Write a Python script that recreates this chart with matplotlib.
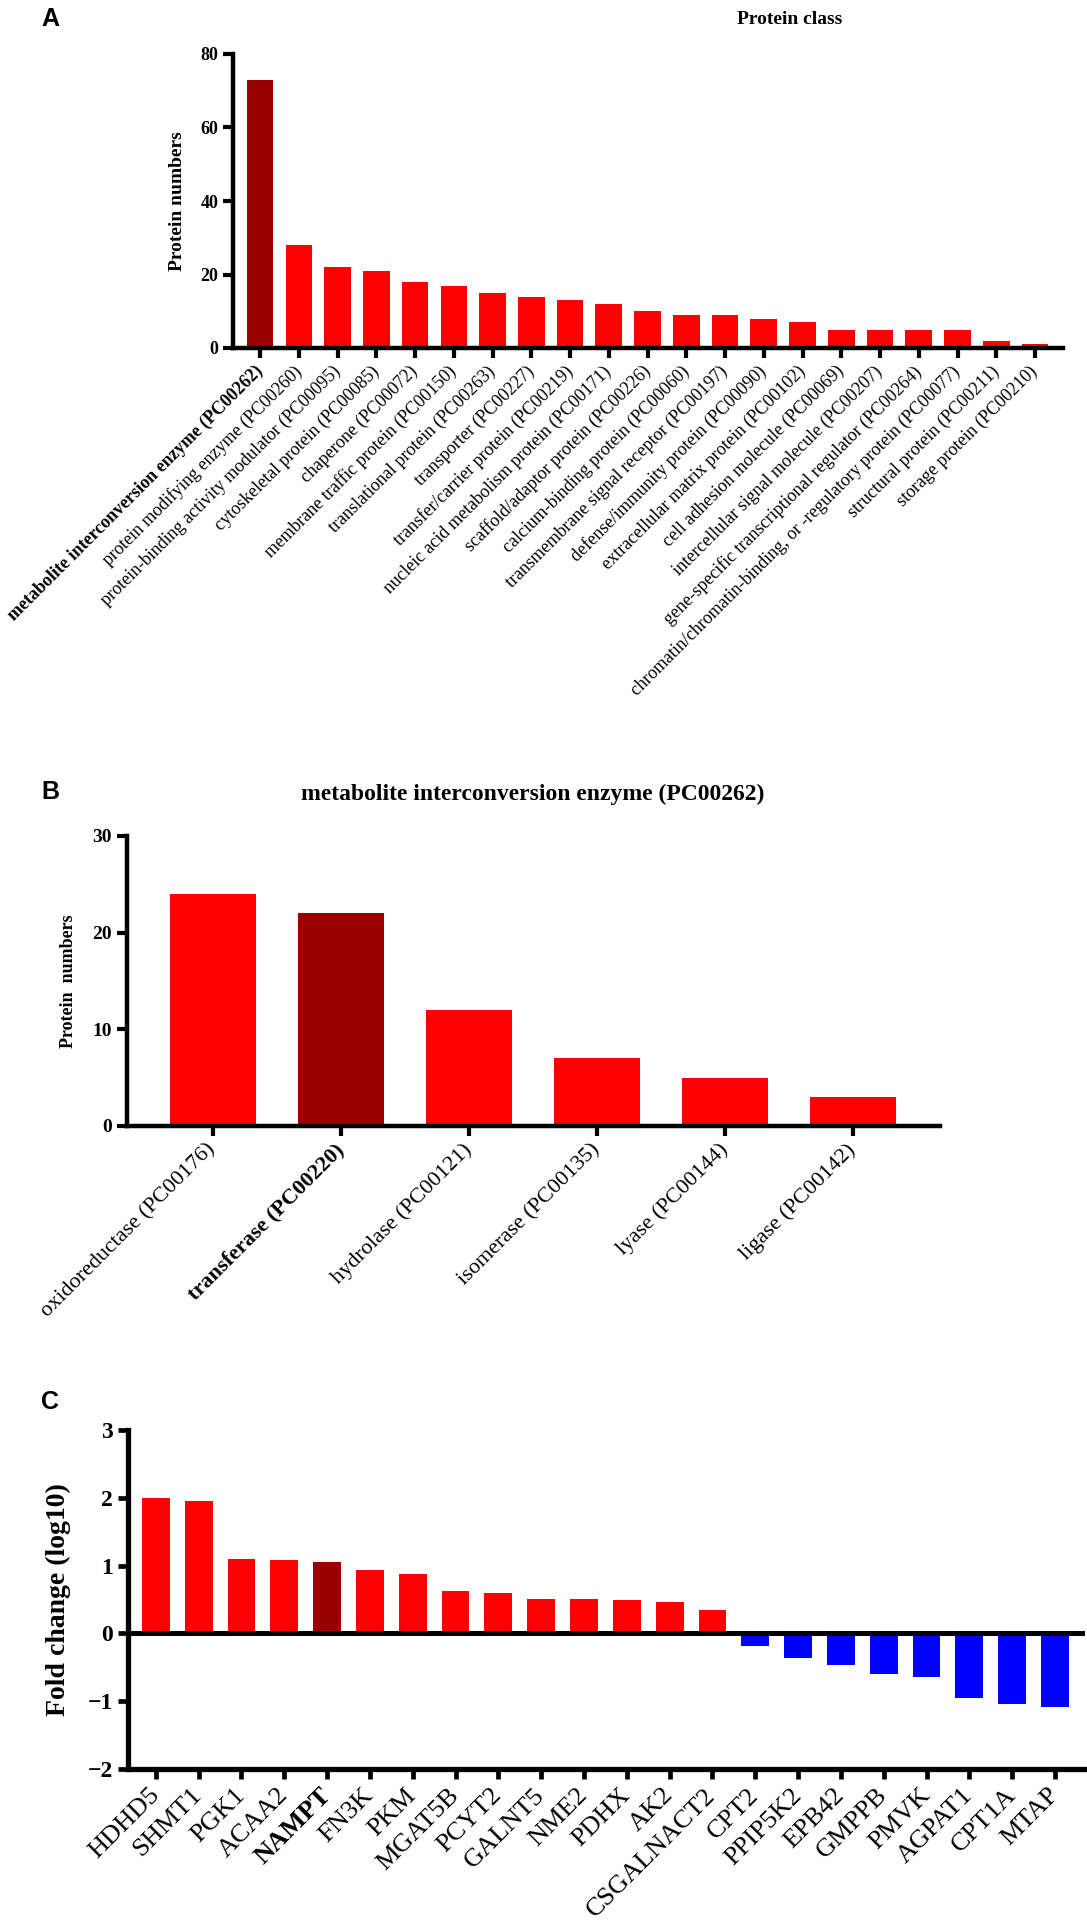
import matplotlib.pyplot as plt

plt.rcParams['font.family'] = 'Liberation Serif'

W, H = 1087, 1928

# panel A: protein classes
class_names = [
    'metabolite interconversion enzyme (PC00262)',
    'protein modifying enzyme (PC00260)',
    'protein-binding activity modulator (PC00095)',
    'cytoskeletal protein (PC00085)',
    'chaperone (PC00072)',
    'membrane traffic protein (PC00150)',
    'translational protein (PC00263)',
    'transporter (PC00227)',
    'transfer/carrier protein (PC00219)',
    'nucleic acid metabolism protein (PC00171)',
    'scaffold/adaptor protein (PC00226)',
    'calcium-binding protein (PC00060)',
    'transmembrane signal receptor (PC00197)',
    'defense/immunity protein (PC00090)',
    'extracellular matrix protein (PC00102)',
    'cell adhesion molecule (PC00069)',
    'intercellular signal molecule (PC00207)',
    'gene-specific transcriptional regulator (PC00264)',
    'chromatin/chromatin-binding, or -regulatory protein (PC00077)',
    'structural protein (PC00211)',
    'storage protein (PC00210)',
]
class_counts = [73, 28, 22, 21, 18, 17, 15, 14, 13, 12, 10, 9, 9, 8, 7, 5, 5, 5, 5, 2, 1]

# panel B: metabolite interconversion enzymes
enzyme_names = [
    'oxidoreductase (PC00176)',
    'transferase (PC00220)',
    'hydrolase (PC00121)',
    'isomerase (PC00135)',
    'lyase (PC00144)',
    'ligase (PC00142)',
]
enzyme_counts = [24, 22, 12, 7, 5, 3]

# panel C: fold changes
gene_names = ['HDHD5', 'SHMT1', 'PGK1', 'ACAA2', 'NAMPT', 'FN3K', 'PKM', 'MGAT5B',
              'PCYT2', 'GALNT5', 'NME2', 'PDHX', 'AK2', 'CSGALNACT2', 'CPT2',
              'PPIP5K2', 'EPB42', 'GMPPB', 'PMVK', 'AGPAT1', 'CPT1A', 'MTAP']
gene_fc = [2.0, 1.95, 1.10, 1.08, 1.06, 0.94, 0.87, 0.63, 0.59, 0.51, 0.51, 0.49,
           0.46, 0.35, -0.19, -0.37, -0.46, -0.60, -0.64, -0.96, -1.04, -1.09]

RED = '#ff0000'
DARK = '#9b0000'
BLUE = '#0000ff'


def box(left, top, right, bottom):
    return [left / W, 1 - bottom / H, (right - left) / W, (bottom - top) / H]


def style(ax, lw, ticklen, tickw):
    ax.spines['top'].set_visible(False)
    ax.spines['right'].set_visible(False)
    ax.spines['left'].set_linewidth(lw)
    ax.spines['bottom'].set_linewidth(lw)
    ax.tick_params(length=ticklen, width=tickw, colors='black')


fig = plt.figure(figsize=(W / 100, H / 100), dpi=100)

# ---------- A ----------
axA = fig.add_axes(box(233, 54, 1063, 348))
xa = list(range(len(class_names)))
colsA = [DARK] + [RED] * (len(class_names) - 1)
axA.bar(xa, class_counts, width=0.69, color=colsA, linewidth=0)
axA.set_xlim(-0.70, 20.72)
axA.set_ylim(0, 80)
axA.set_yticks([0, 20, 40, 60, 80])
style(axA, 3.2, 7, 3)
axA.set_xticks(xa)
axA.set_xticklabels(class_names, rotation=45, ha='right', va='center',
                    rotation_mode='anchor', fontsize=13)
axA.tick_params(axis='x', pad=8)
axA.get_xticklabels()[0].set_fontweight('bold')
for t in axA.get_yticklabels():
    t.set_fontweight('bold')
    t.set_fontsize(13)
axA.set_ylabel('Protein numbers', fontsize=14, fontweight='bold')
axA.yaxis.set_label_coords(-0.057, 0.5)
fig.text(790 / W, 1 - 20 / H, 'Protein class', ha='center', va='center',
         fontsize=14, fontweight='bold')

# ---------- B ----------
axB = fig.add_axes(box(126.5, 836, 940, 1126))
xb = list(range(len(enzyme_names)))
colsB = [RED, DARK, RED, RED, RED, RED]
axB.bar(xb, enzyme_counts, width=0.67, color=colsB, linewidth=0)
axB.set_xlim(-0.676, 5.68)
axB.set_ylim(0, 30)
axB.set_yticks([0, 10, 20, 30])
style(axB, 3.2, 7, 3)
axB.set_xticks(xb)
axB.set_xticklabels(enzyme_names, rotation=45, ha='right', va='center',
                    rotation_mode='anchor', fontsize=16)
axB.tick_params(axis='x', pad=8)
axB.get_xticklabels()[1].set_fontweight('bold')
for t in axB.get_yticklabels():
    t.set_fontweight('bold')
    t.set_fontsize(14)
axB.set_ylabel('Protein  numbers', fontsize=13, fontweight='bold')
axB.yaxis.set_label_coords(-0.061, 0.5)
fig.text(533 / W, 1 - 794 / H, 'metabolite interconversion enzyme (PC00262)',
         ha='center', va='center', fontsize=17, fontweight='bold')

# ---------- C ----------
axC = fig.add_axes(box(128, 1430, 1085, 1769))
xc = list(range(len(gene_names)))
colsC = [BLUE if v < 0 else RED for v in gene_fc]
colsC[gene_names.index('NAMPT')] = DARK
axC.bar(xc, gene_fc, width=0.65, color=colsC, linewidth=0)
axC.axhline(0, color='black', linewidth=3.6, zorder=3)
axC.set_xlim(-0.65, 21.7)
axC.set_ylim(-2, 3)
axC.set_yticks([-2, -1, 0, 1, 2, 3])
style(axC, 3.8, 7.5, 3.4)
axC.set_xticks(xc)
axC.set_xticklabels(gene_names, rotation=45, ha='right', va='center',
                    rotation_mode='anchor', fontsize=19)
axC.tick_params(axis='x', pad=9)
axC.get_xticklabels()[gene_names.index('NAMPT')].set_fontweight('bold')
for t in axC.get_yticklabels():
    t.set_fontweight('bold')
    t.set_fontsize(17)
axC.set_ylabel('Fold change (log10)', fontsize=20, fontweight='bold')
axC.yaxis.set_label_coords(-0.06, 0.5)

# panel letters
for letter, top in [('A', 7), ('B', 780), ('C', 1390)]:
    fig.text(41 / W, 1 - top / H, letter, ha='left', va='top', fontsize=18,
             fontweight='bold', family='Liberation Sans')

fig.savefig('out.png', dpi=100)
